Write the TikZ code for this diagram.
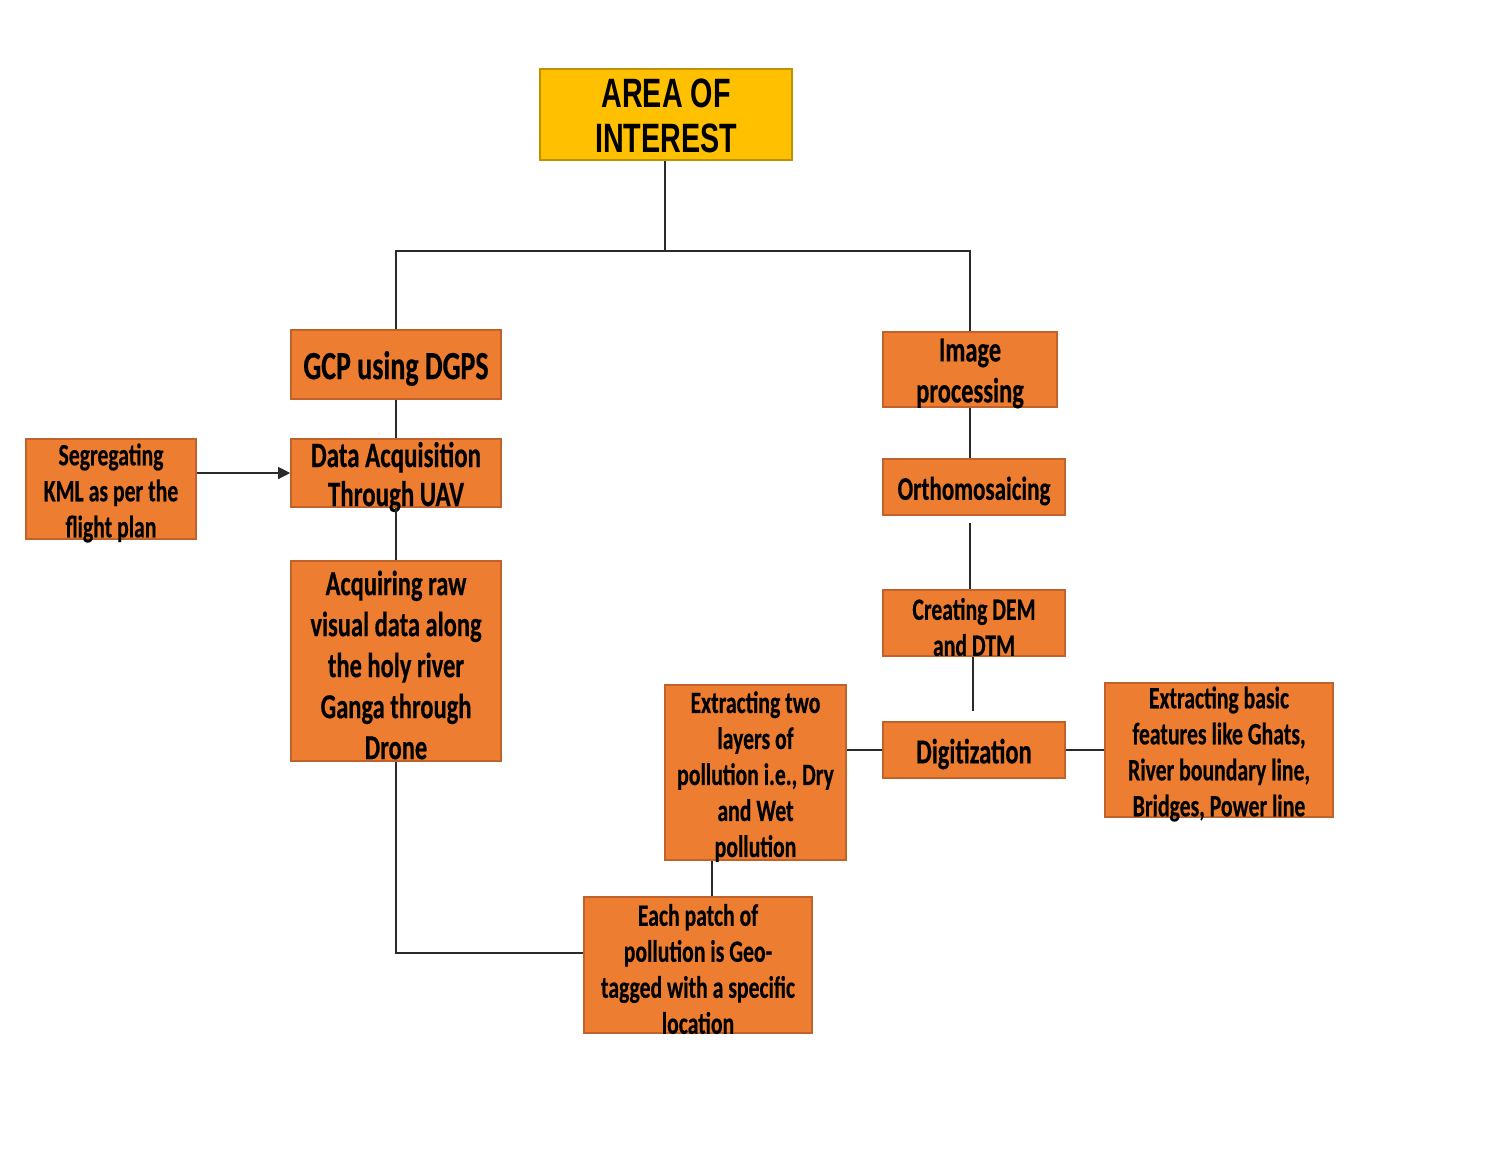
\documentclass[tikz,border=0pt]{standalone}
\usepackage{fontspec}
\usetikzlibrary{arrows.meta}
\newfontfamily\calfont{Carlito}[FakeStretch=0.70,FakeBold=0.4]
\newfontfamily\arfont{Liberation Sans}[FakeStretch=0.70]
\definecolor{boxor}{HTML}{ED7D31}
\definecolor{boxorline}{HTML}{C0622A}
\definecolor{aoiyel}{HTML}{FFC000}
\definecolor{aoiline}{HTML}{BF9000}
\definecolor{conn}{HTML}{2A2A2A}
\tikzset{
  box/.style={draw=boxorline, line width=0.8pt, fill=boxor, inner sep=0pt, rectangle},
  txt/.style={align=center, inner sep=0pt, text=black, yshift=-2pt},
  fa/.style={font={\calfont\bfseries\fontsize{20}{20.5}\selectfont}},
  fb/.style={font={\calfont\bfseries\fontsize{17.5}{20.5}\selectfont}},
  fc/.style={font={\calfont\bfseries\fontsize{15.5}{18}\selectfont}},
  fd/.style={font={\calfont\bfseries\fontsize{16.5}{18}\selectfont}},
  fe/.style={font={\calfont\bfseries\fontsize{17.8}{19.5}\selectfont}},
  wire/.style={draw=conn, line width=0.6pt},
}
\begin{document}
\begin{tikzpicture}[x=0.5pt, y=-0.5pt]
\useasboundingbox[fill=white] (0,0) rectangle (1502,1157);

% boxes
\node[draw=aoiline, line width=0.8pt, fill=aoiyel, inner sep=0pt, minimum width=126pt, minimum height=45.5pt,
  label={[name=aoi-t, align=center, inner sep=0pt, text=black, yshift=-0.5pt, font={\arfont\bfseries\fontsize{20.5}{22.5}\selectfont}]center:{AREA OF\\INTEREST}}] (aoi) at (666,114.5) {};
\node[box, minimum width=105pt, minimum height=34.5pt,
  label={[name=gcp-t, txt, fa]center:{GCP using DGPS}}] (gcp) at (396,364.5) {};
\node[box, minimum width=105pt, minimum height=34pt,
  label={[name=daq-t, txt, fe]center:{Data Acquisition\\Through UAV}}] (daq) at (396,473) {};
\node[box, minimum width=85pt, minimum height=50pt,
  label={[name=seg-t, txt, fc]center:{Segregating\\KML as per the\\flight plan}}] (seg) at (111,489) {};
\node[box, minimum width=105pt, minimum height=100pt,
  label={[name=acq-t, txt, fb]center:{Acquiring raw\\visual data along\\the holy river\\Ganga through\\Drone}}] (acq) at (396,661) {};
\node[box, minimum width=87pt, minimum height=37.5pt,
  label={[name=img-t, txt, fb]center:{Image\\processing}}] (img) at (970,369.5) {};
\node[box, minimum width=91pt, minimum height=28pt,
  label={[name=orth-t, txt, fd]center:{Orthomosaicing}}] (orth) at (974,487) {};
\node[box, minimum width=91pt, minimum height=33pt,
  label={[name=dem-t, txt, fc]center:{Creating DEM\\and DTM}}] (dem) at (974,623) {};
\node[box, minimum width=91pt, minimum height=28pt,
  label={[name=dig-t, txt, fb]center:{Digitization}}] (dig) at (974,750) {};
\node[box, minimum width=90.5pt, minimum height=87.5pt,
  label={[name=ext2-t, txt, fc]center:{Extracting two\\layers of\\pollution i.e., Dry\\and Wet\\pollution}}] (ext2) at (755.5,772.5) {};
\node[box, minimum width=114pt, minimum height=67pt,
  label={[name=extb-t, txt, fc]center:{Extracting basic\\features like Ghats,\\River boundary line,\\Bridges, Power line}}] (extb) at (1219,750) {};
\node[box, minimum width=114pt, minimum height=68pt,
  label={[name=patch-t, txt, fc]center:{Each patch of\\pollution is Geo-\\tagged with a specific\\location}}] (patch) at (698,965) {};

% junction coordinates
\coordinate (jm) at (665,251);
\coordinate (jl) at (396,251);
\coordinate (jr) at (970,251);
\coordinate (cx) at (712,0);
\coordinate (dx) at (973,0);

% connectors
\draw[wire] (aoi.south -| jm) -- (jm);
\draw[wire] (gcp.north) -- (jl) -- (jr) -- (img.north);
\draw[wire] (gcp.south) -- (daq.north);
\draw[wire] (daq.south) -- (acq.north);
\draw[wire, -{Triangle[length=6pt,width=6pt]}] (seg.east |- daq.west) -- (daq.west);
\draw[wire] (acq.south) |- ([yshift=6pt]patch.west);
\draw[wire] (patch.north -| cx) -- (ext2.south -| cx);
\draw[wire] (dig.west) -- (dig.west -| ext2.east);
\draw[wire] (dig.east) -- (dig.east -| extb.west);
\draw[wire] (img.south) -- (img.south |- orth.north);
\draw[wire, shorten <=3.5pt] (orth.south -| img.south) -- (dem.north -| img.south);
\draw[wire, shorten >=5pt] (dem.south -| dx) -- (dig.north -| dx);
\end{tikzpicture}
\end{document}
